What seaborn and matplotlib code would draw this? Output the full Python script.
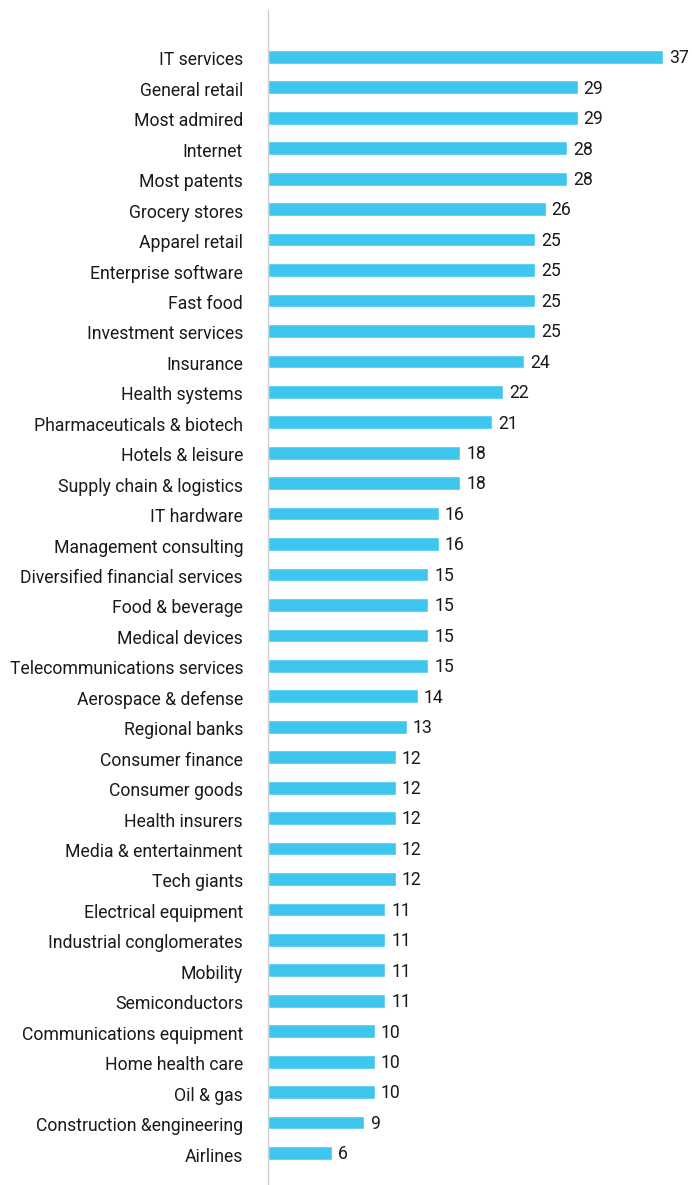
import matplotlib
matplotlib.use("Agg")
import matplotlib.pyplot as plt
import matplotlib.transforms as mtransforms
import seaborn as sns
import pandas as pd

categories = [
    "IT services", "General retail", "Most admired", "Internet", "Most patents",
    "Grocery stores", "Apparel retail", "Enterprise software", "Fast food",
    "Investment services", "Insurance", "Health systems",
    "Pharmaceuticals & biotech", "Hotels & leisure", "Supply chain & logistics",
    "IT hardware", "Management consulting", "Diversified financial services",
    "Food & beverage", "Medical devices", "Telecommunications services",
    "Aerospace & defense", "Regional banks", "Consumer finance",
    "Consumer goods", "Health insurers", "Media & entertainment", "Tech giants",
    "Electrical equipment", "Industrial conglomerates", "Mobility",
    "Semiconductors", "Communications equipment", "Home health care",
    "Oil & gas", "Construction &engineering", "Airlines",
]
values = [37, 29, 29, 28, 28, 26, 25, 25, 25, 25, 24, 22, 21, 18, 18, 16, 16,
          15, 15, 15, 15, 14, 13, 12, 12, 12, 12, 12, 11, 11, 11, 11, 10, 10,
          10, 9, 6]

df = pd.DataFrame({"category": categories, "value": values})

sns.set_theme(style="white")
plt.rcParams["font.family"] = ["Roboto", "DejaVu Sans"]

W, H = 692, 1185
fig = plt.figure(figsize=(W / 100, H / 100), dpi=100)
ax = fig.add_axes([268 / W, 0, 1 - 268 / W, 1 - 10 / H])

bar_color = "#3EC6EE"
text_color = "#1a1a1a"
fs = 12.7

sns.barplot(data=df, x="value", y="category", orient="h", color=bar_color,
            width=0.45, saturation=1, ax=ax)

ax.set_xlim(0, 424 / 10.68)
ax.set_ylim(len(categories) - 1 + 1.05, -1.54)

# value labels: baseline placed so the digits sit centred on each bar
value_shift = mtransforms.ScaledTranslation(0, -6.3 / 100, fig.dpi_scale_trans)
for i, v in enumerate(values):
    ax.text(v + 0.55, i, f"{v}", va="baseline", ha="left", fontsize=fs,
            color=text_color, transform=ax.transData + value_shift)

ax.set_xlabel("")
ax.set_ylabel("")
ax.set_xticks([])
ax.tick_params(axis="y", length=0, pad=18, labelsize=fs, labelcolor=text_color)

# category labels sit slightly below the bar centre line
label_shift = mtransforms.ScaledTranslation(0, -8.5 / 100, fig.dpi_scale_trans)
for lbl in ax.get_yticklabels():
    lbl.set_verticalalignment("baseline")
    lbl.set_transform(lbl.get_transform() + label_shift)

for side in ["top", "right", "bottom"]:
    ax.spines[side].set_visible(False)
ax.spines["left"].set_color("#d0d0d0")
ax.spines["left"].set_linewidth(1.0)

fig.savefig("out.png", dpi=100)
